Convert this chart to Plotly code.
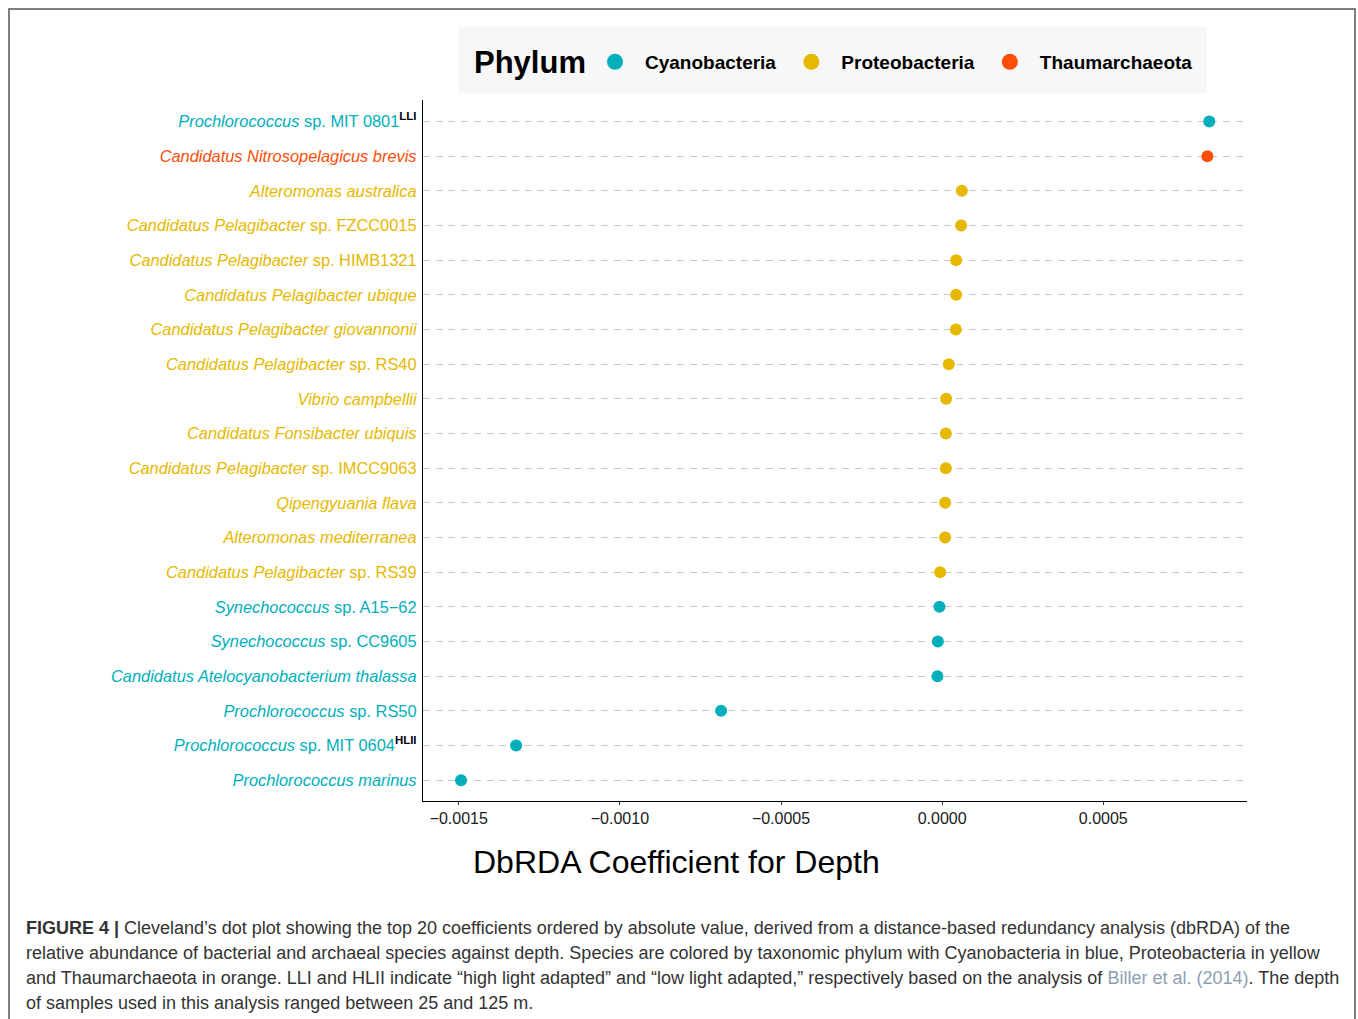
import plotly.graph_objects as go

# ---- data ----
italic_part = [
    "Prochlorococcus", "Candidatus Nitrosopelagicus brevis", "Alteromonas australica",
    "Candidatus Pelagibacter", "Candidatus Pelagibacter", "Candidatus Pelagibacter ubique",
    "Candidatus Pelagibacter giovannonii", "Candidatus Pelagibacter", "Vibrio campbellii",
    "Candidatus Fonsibacter ubiquis", "Candidatus Pelagibacter", "Qipengyuania flava",
    "Alteromonas mediterranea", "Candidatus Pelagibacter", "Synechococcus", "Synechococcus",
    "Candidatus Atelocyanobacterium thalassa", "Prochlorococcus", "Prochlorococcus",
    "Prochlorococcus marinus",
]
plain_part = [
    " sp. MIT 0801", "", "", " sp. FZCC0015", " sp. HIMB1321", "", "", " sp. RS40", "", "",
    " sp. IMCC9063", "", "", " sp. RS39", " sp. A15\u221262", " sp. CC9605", "", " sp. RS50",
    " sp. MIT 0604", "",
]
superscript = ["LLI", "", "", "", "", "", "", "", "", "", "", "", "", "", "", "", "", "", "HLII", ""]
phylum = [
    "Cyanobacteria", "Thaumarchaeota", "Proteobacteria", "Proteobacteria", "Proteobacteria",
    "Proteobacteria", "Proteobacteria", "Proteobacteria", "Proteobacteria", "Proteobacteria",
    "Proteobacteria", "Proteobacteria", "Proteobacteria", "Proteobacteria", "Cyanobacteria",
    "Cyanobacteria", "Cyanobacteria", "Cyanobacteria", "Cyanobacteria", "Cyanobacteria",
]
coefficient = [
    0.000829, 0.000823, 0.0000611, 0.0000590, 0.0000435, 0.0000435, 0.0000425, 0.0000208,
    0.0000124, 0.0000115, 0.0000115, 0.0000093, 0.0000093, -0.0000062, -0.0000084,
    -0.0000133, -0.0000146, -0.000686, -0.001322, -0.001493,
]
phylum_order = ["Cyanobacteria", "Proteobacteria", "Thaumarchaeota"]
phylum_colors = {"Cyanobacteria": "#00AFBB", "Proteobacteria": "#E7B800", "Thaumarchaeota": "#FC4E07"}
x_ticks = [-0.0015, -0.0010, -0.0005, 0.0000, 0.0005]

caption_lines = [
    "<b>FIGURE 4 |</b> Cleveland\u2019s dot plot showing the top 20 coefficients ordered by absolute value, derived from a distance-based redundancy analysis (dbRDA) of the",
    "relative abundance of bacterial and archaeal species against depth. Species are colored by taxonomic phylum with Cyanobacteria in blue, Proteobacteria in yellow",
    "and Thaumarchaeota in orange. LLI and HLII indicate \u201chigh light adapted\u201d and \u201clow light adapted,\u201d respectively based on the analysis of <span style='color:#8DA0B3'>Biller et al. (2014)</span>. The depth",
    "of samples used in this analysis ranged between 25 and 125 m.",
]

FONT = "Liberation Sans, Arial, Helvetica, sans-serif"

# ---- build ----
keys = [a + b for a, b in zip(italic_part, plain_part)]
ticktext = []
for it, pl, sp, ph in zip(italic_part, plain_part, superscript, phylum):
    t = f"<span style='color:{phylum_colors[ph]}'><i>{it}</i>{pl}</span>"
    if sp:
        t += f"<sup><span style='color:#000000'><b>{sp}</b></span></sup>"
    ticktext.append(t)

fig = go.Figure()
for ph in phylum_order:
    idx = [i for i, p in enumerate(phylum) if p == ph]
    fig.add_trace(go.Scatter(
        x=[coefficient[i] for i in idx], y=[keys[i] for i in idx],
        mode="markers", marker=dict(size=12, color=phylum_colors[ph]),
        name=ph, showlegend=False, cliponaxis=False,
    ))
for ph in phylum_order:
    fig.add_trace(go.Scatter(
        x=[None], y=[None], mode="markers",
        marker=dict(size=16, color=phylum_colors[ph]), name=ph, showlegend=True,
    ))

W, H = 1358, 1019
L, T = 423, 100
R = W - 1247
B = H - 801
pw, ph_ = W - L - R, H - T - B

def px(sx):
    return (sx - L) / pw

def py(sy):
    return (H - B - sy) / ph_

fig.update_layout(
    width=W, height=H,
    margin=dict(l=L, r=R, t=T, b=B, pad=0),
    paper_bgcolor="white", plot_bgcolor="white",
    font=dict(family=FONT, color="#1a1a1a"),
    showlegend=True,
    legend=dict(
        orientation="h", x=px(585), xanchor="left", y=py(62), yanchor="middle",
        bgcolor="rgba(0,0,0,0)", borderwidth=0,
        font=dict(size=19, weight="bold", color="black"),
        itemsizing="trace", traceorder="normal", itemwidth=50,
    ),
    xaxis=dict(
        range=[-0.001611, 0.000946], tickvals=x_ticks, tickformat=".4f",
        showgrid=False, zeroline=False, showline=True, linecolor="black", linewidth=1.3,
        ticks="outside", ticklen=3, tickcolor="#333333", tickwidth=1.2,
        tickfont=dict(size=16, color="#1a1a1a"),
    ),
    yaxis=dict(
        type="category", categoryorder="array", categoryarray=keys,
        tickvals=keys, ticktext=ticktext, range=[len(keys) - 0.4, -0.62],
        showgrid=True, gridcolor="#C8C8C8", gridwidth=1.3, griddash="7px,5.7px",
        zeroline=False, showline=True, linecolor="black", linewidth=1.3,
        ticks="", ticklabelstandoff=2, tickfont=dict(size=16.4),
    ),
    annotations=[
        dict(text="<b>Phylum</b>", xref="paper", yref="paper",
             x=px(472), y=py(62), xanchor="left", yanchor="middle",
             showarrow=False, font=dict(size=31, color="black")),
        dict(text="DbRDA Coefficient for Depth", xref="paper", yref="paper",
             x=px(676), y=py(862), xanchor="center", yanchor="middle",
             showarrow=False, font=dict(size=32, color="black")),
    ] + [
        dict(text=line, xref="paper", yref="paper", x=px(24), y=py(928 + 25 * i),
             xanchor="left", yanchor="middle", align="left", showarrow=False,
             font=dict(size=18, color="#333333"))
        for i, line in enumerate(caption_lines)
    ],
    shapes=[
        dict(type="rect", xref="paper", yref="paper", x0=px(458), x1=px(1207), y0=py(93), y1=py(27),
             line=dict(width=0), fillcolor="#F7F7F7", layer="below"),
        dict(type="rect", xref="paper", yref="paper", x0=px(9), x1=px(1355), y0=py(1040), y1=py(9),
             line=dict(color="#555555", width=1.5), fillcolor="rgba(0,0,0,0)", layer="below"),
    ],
)

fig.write_html(
    "out.html",
    config={"displayModeBar": False},
    post_script="document.body.style.margin='0px';",
)
